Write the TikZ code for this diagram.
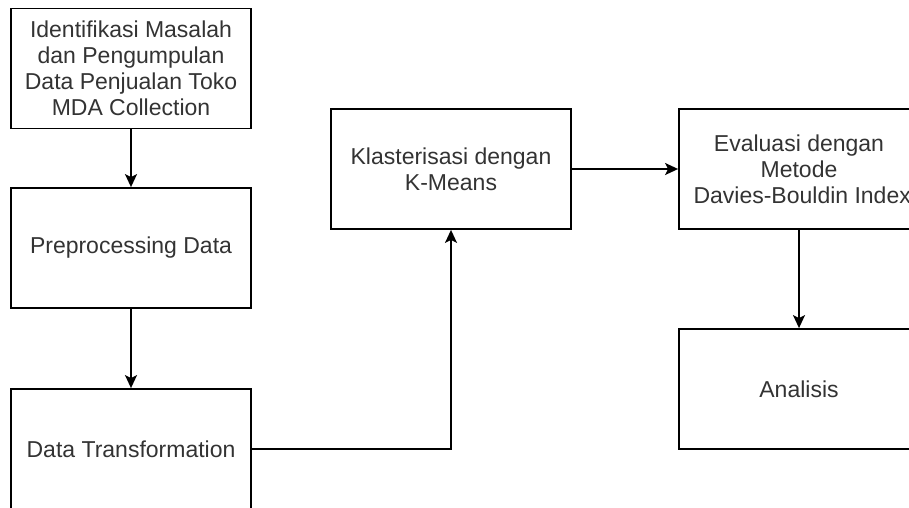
\documentclass[tikz,border=0pt]{standalone}
\usepackage{fontspec}
\setmainfont{Liberation Sans}
\usetikzlibrary{arrows.meta}

\tikzset{
  box/.style={draw, line width=1.8pt, minimum width=240pt, minimum height=120pt,
    inner sep=0pt, align=center, text=black!80,
    font=\fontsize{23}{26}\selectfont},
  arr/.style={line width=1.8pt, -{Stealth[length=13pt,width=12pt,inset=3pt]}}
}

\begin{document}
\begin{tikzpicture}[x=1pt, y=1pt]
		%%%%% START %%%%%
		\useasboundingbox (0, 0) rectangle (909, -507);
		\clip (0, 0) rectangle (909, -507);
		
		\node[box] (ident) at (131, -68.5) {Identifikasi Masalah\\dan Pengumpulan\\Data Penjualan Toko\\MDA Collection};
		\node[box] (prep) at (131, -248) {Preprocessing Data};
		\node[box] (transform) at (131, -449) {Data Transformation};
		
		\node[box] (kmeans) at (451, -169) {Klasterisasi dengan\\K-Means};
		\node[box] (evaluasi) at (799, -169) {Evaluasi dengan\\Metode\\\ Davies-Bouldin Index};
		\node[box] (analisis) at (799, -389) {Analisis};
		
		\draw[arr] (ident) -- (prep);
		\draw[arr] (prep) -- (transform);
		\draw[arr] (transform.east) -| (kmeans.south);
		\draw[arr] (kmeans) -- (evaluasi);
		\draw[arr] (evaluasi) -- (analisis);
		
		%%%%% END %%%%%
\end{tikzpicture}
\end{document}
